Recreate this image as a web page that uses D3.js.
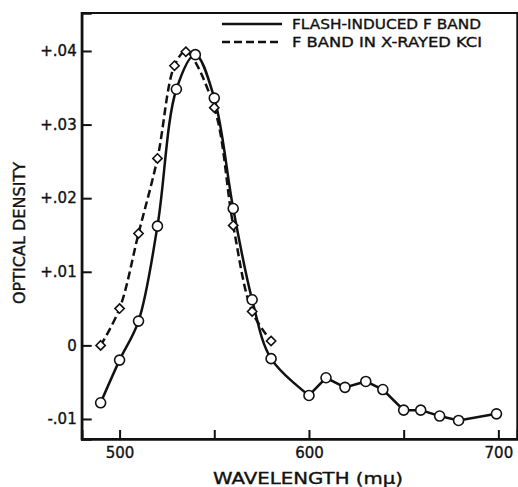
<!DOCTYPE html>
<html>
<head>
<meta charset="utf-8">
<script src="https://cdn.jsdelivr.net/npm/d3@7"></script>
<style>
  html, body { margin: 0; padding: 0; background: #fff; }
  svg { display: block; }
  text { font-family: "DejaVu Sans", "Liberation Sans", sans-serif; fill: #111; stroke: #111; stroke-width: 0.35px; }
</style>
</head>
<body>
<svg id="chart" width="518" height="487"></svg>
<script>
// Flash-induced F band (circles, solid line)
const flashWavelength = [490, 500, 510, 520, 530, 540, 550, 560, 570, 580, 600, 609, 619, 630, 639, 650, 659, 669, 679, 699];
const flashDensity    = [-0.0078, -0.0020, 0.0033, 0.0162, 0.0348, 0.0395, 0.0336, 0.0186, 0.0062, -0.0018, -0.0068, -0.0044, -0.0057, -0.0049, -0.0060, -0.0088, -0.0088, -0.0096, -0.0102, -0.0093];
// F band in X-rayed KCl (diamonds, dashed line)
const xrayWavelength = [490, 500, 510, 520, 529, 535, 550, 560, 570, 580];
const xrayDensity    = [0.0000, 0.0050, 0.0152, 0.0254, 0.0380, 0.0399, 0.0323, 0.0163, 0.0046, 0.0006];
// Axis ticks
const xTicks = [500, 550, 600, 650, 700];
const xTickLabels = ["500", "", "600", "", "700"];
const yTicks = [-0.01, 0, 0.01, 0.02, 0.03, 0.04];
const yTickLabels = ["-.01", "0", "+.01", "+.02", "+.03", "+.04"];
const seriesNames = ["FLASH-INDUCED F BAND", "F BAND IN X-RAYED KCI"];

const svg = d3.select("#chart");
const plotLeft = 81.7, plotRight = 517.3, plotTop = 13, plotBottom = 439;
const x = d3.scaleLinear().domain([480, 710]).range([plotLeft, plotRight]);
const y = d3.scaleLinear().domain([-0.01272, 0.04516]).range([plotBottom, plotTop]);

// frame
svg.append("rect").attr("x", plotLeft).attr("y", plotTop).attr("width", plotRight - plotLeft).attr("height", plotBottom - plotTop)
  .attr("fill", "none").attr("stroke", "#111").attr("stroke-width", 2);

// axes
const yAxis = d3.axisLeft(y).tickValues(yTicks).tickSize(-10).tickPadding(5)
  .tickFormat((d, i) => yTickLabels[i]);
const gy = svg.append("g").attr("transform", `translate(${plotLeft},0)`).call(yAxis);
gy.select(".domain").attr("stroke", "#111").attr("stroke-width", 2.5);
gy.selectAll(".tick line").attr("stroke", "#111").attr("stroke-width", 2);
gy.selectAll(".tick text").attr("font-size", 15).attr("fill", "#111").attr("font-family", "DejaVu Sans, sans-serif");

const xAxis = d3.axisBottom(x).tickValues(xTicks).tickSize(-9).tickPadding(8)
  .tickFormat((d, i) => xTickLabels[i]);
const gx = svg.append("g").attr("transform", `translate(0,${plotBottom})`).call(xAxis);
gx.select(".domain").attr("stroke", "#111").attr("stroke-width", 2.5);
gx.selectAll(".tick line").attr("stroke", "#111").attr("stroke-width", 2);
gx.selectAll(".tick text").attr("font-size", 15).attr("fill", "#111").attr("font-family", "DejaVu Sans, sans-serif");

// axis titles
svg.append("text").attr("x", 308).attr("y", 484).attr("text-anchor", "middle")
  .attr("font-size", 15).attr("textLength", 190).attr("lengthAdjust", "spacingAndGlyphs")
  .text("WAVELENGTH (mμ)");
svg.append("text").attr("transform", "translate(25,233) rotate(-90)").attr("text-anchor", "middle")
  .attr("font-size", 15).attr("textLength", 142).attr("lengthAdjust", "spacingAndGlyphs")
  .text("OPTICAL DENSITY");

// lines
const flash = flashWavelength.map((w, i) => ({w, v: flashDensity[i]}));
const xray = xrayWavelength.map((w, i) => ({w, v: xrayDensity[i]}));
const smoothPart = flash.filter(d => d.w <= 600);
const straightPart = flash.filter(d => d.w >= 600);
const lineSmooth = d3.line().x(d => x(d.w)).y(d => y(d.v)).curve(d3.curveCatmullRom.alpha(0.5));
const lineStraight = d3.line().x(d => x(d.w)).y(d => y(d.v));

svg.append("path").attr("d", lineSmooth(xray)).attr("fill", "none").attr("stroke", "#111")
  .attr("stroke-width", 2.5).attr("stroke-dasharray", "8,4");
svg.append("path").attr("d", lineSmooth(smoothPart)).attr("fill", "none").attr("stroke", "#111").attr("stroke-width", 2.5);
svg.append("path").attr("d", lineStraight(straightPart)).attr("fill", "none").attr("stroke", "#111").attr("stroke-width", 2.5);

// markers
svg.selectAll(".diamond").data(xray).enter().append("path").attr("class", "diamond")
  .attr("d", d3.symbol().type(d3.symbolDiamond2).size(55))
  .attr("transform", d => `translate(${x(d.w)},${y(d.v)})`)
  .attr("fill", "#fff").attr("stroke", "#111").attr("stroke-width", 1.6);
svg.selectAll(".circle").data(flash).enter().append("circle").attr("class", "circle")
  .attr("cx", d => x(d.w)).attr("cy", d => y(d.v)).attr("r", 5)
  .attr("fill", "#fff").attr("stroke", "#111").attr("stroke-width", 1.6);

// legend
const legend = svg.append("g");
legend.append("line").attr("x1", 222).attr("x2", 282).attr("y1", 24).attr("y2", 24)
  .attr("stroke", "#111").attr("stroke-width", 2.5);
legend.append("line").attr("x1", 222).attr("x2", 282).attr("y1", 42).attr("y2", 42)
  .attr("stroke", "#111").attr("stroke-width", 2.5).attr("stroke-dasharray", "8,4");
legend.append("text").attr("x", 292).attr("y", 29).attr("font-size", 13.5)
  .attr("textLength", 189).attr("lengthAdjust", "spacingAndGlyphs").text(seriesNames[0]);
legend.append("text").attr("x", 292).attr("y", 47).attr("font-size", 13.5)
  .attr("textLength", 190).attr("lengthAdjust", "spacingAndGlyphs").text(seriesNames[1]);
</script>
</body>
</html>
